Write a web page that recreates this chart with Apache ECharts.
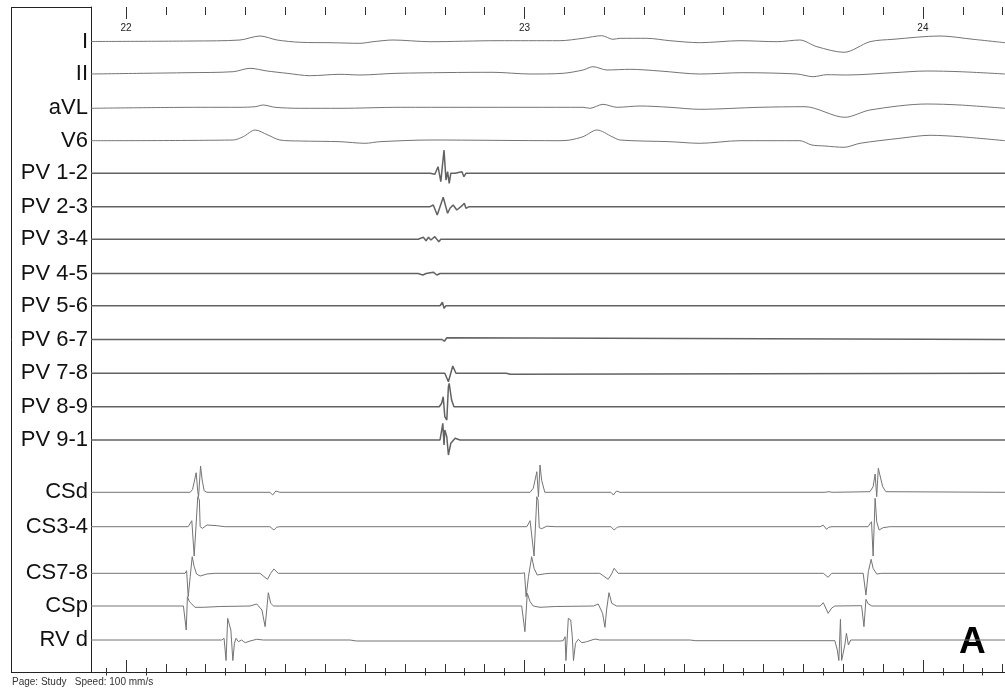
<!DOCTYPE html>
<html>
<head>
<meta charset="utf-8">
<script src="https://cdn.jsdelivr.net/npm/echarts@6/dist/echarts.min.js"></script>
<style>
html,body{margin:0;padding:0;background:#fff;}
#chart{width:1005px;height:689px;}
</style>
</head>
<body>
<div id="chart"></div>
<script>
const timeLabels = [22, 23, 24];
const channelNames = ['I','II','aVL','V6','PV 1-2','PV 2-3','PV 3-4','PV 4-5','PV 5-6','PV 6-7','PV 7-8','PV 8-9','PV 9-1','CSd','CS3-4','CS7-8','CSp','RV d'];

const chI = [[21.912,0],[22.168,0.5],[22.286,1.5],[22.336,5.5],[22.379,1.5],[22.437,-0.8],[22.512,-1.2],[22.587,-1.8],[22.620,-0.2],[22.670,1.5],[22.763,-0.2],[22.931,0.8],[23.089,0.8],[23.147,3.2],[23.194,5.8],[23.222,2.2],[23.240,3.2],[23.307,3.2],[23.365,0.8],[23.440,-1.2],[23.541,0.8],[23.634,-0.2],[23.691,1.5],[23.734,-5.2],[23.802,-10.8],[23.867,-0.2],[23.925,2.2],[24.043,5.5],[24.126,2.2],[24.206,-1.2]];
const chII = [[21.912,-0.5],[22.043,0.2],[22.153,0.8],[22.269,1.8],[22.311,5.2],[22.354,2.5],[22.404,0.2],[22.462,-2.2],[22.537,-0.8],[22.587,-1.5],[22.680,0.2],[22.921,1.2],[23.014,-0.5],[23.097,0.2],[23.147,3.5],[23.172,6.8],[23.207,3.5],[23.265,4.2],[23.340,2.5],[23.440,-0.5],[23.548,0.8],[23.684,-0.5],[23.724,-3.2],[23.759,-1.2],[23.809,-1.5],[23.925,0.8],[24.010,2.5],[24.093,1.8],[24.206,-0.5]];
const chAVL = [[21.912,-0.6],[22.186,0.4],[22.286,0.4],[22.324,1],[22.344,2.7],[22.374,0.4],[22.437,-0.6],[22.537,-0.6],[22.688,0.4],[23.014,0.4],[23.147,0.4],[23.164,-0.6],[23.197,3.4],[23.232,0.4],[23.290,1.7],[23.365,0.4],[23.440,-1.6],[23.591,0.4],[23.704,1],[23.804,-9.6],[23.867,-2.3],[24.010,3.7],[24.093,2.7],[24.206,-0.6]];
const chV6 = [[21.912,0],[22.269,0.7],[22.294,4],[22.324,10.7],[22.356,5.7],[22.386,0.7],[22.437,-0.3],[22.537,-1],[22.600,-2.6],[22.637,-1],[22.763,0.7],[23.089,0],[23.114,0.7],[23.147,4],[23.182,10.7],[23.220,4],[23.240,0.7],[23.365,-1],[23.440,-2.6],[23.541,0],[23.691,0],[23.721,-4.3],[23.754,-5.3],[23.802,-6.6],[23.842,-2.6],[23.942,2.4],[24.018,5.4],[24.093,4],[24.206,0]];
const chPV12 = [[21.912,0],[22.763,0],[22.775,-1],[22.783,6.6],[22.790,-8.4],[22.798,23.3],[22.803,-6.7],[22.807,1.6],[22.811,-10],[22.815,0],[22.826,0],[22.843,1.6],[22.848,-3.4],[22.853,0],[24.206,0]];
const chPV23 = [[21.912,0],[22.763,0],[22.771,1.7],[22.781,-8.3],[22.788,0],[22.796,9.4],[22.800,7.4],[22.807,-6.6],[22.813,-1.6],[22.821,1.7],[22.830,-3.3],[22.842,0.5],[22.849,3.4],[22.853,-1.6],[22.861,0],[24.206,0]];
const chPV34 = [[21.912,0],[22.733,0],[22.738,-0.7],[22.746,2],[22.753,-1.4],[22.759,2],[22.765,-0.7],[22.770,0.5],[22.775,2.6],[22.780,0],[22.785,-2.4],[22.790,0],[24.206,0]];
const chPV45 = [[21.912,0],[22.733,0],[22.738,2],[22.745,-1.5],[22.753,0],[22.771,1.3],[22.780,-1.5],[22.788,0],[24.206,0]];
const chPV56 = [[21.912,0],[22.788,0],[22.794,3.4],[22.798,-2.6],[22.803,0],[24.206,0]];
const chPV67 = [[21.912,0],[22.793,0],[22.799,-1.7],[22.805,1.7],[22.809,0],[24.206,0]];
const chPV78 = [[21.912,0],[22.800,0],[22.809,-8.4],[22.820,7.3],[22.828,0],[22.954,0],[22.959,1.5],[22.964,-1],[22.969,0],[24.206,0]];
const chPV89 = [[21.912,0],[22.786,0],[22.792,3.4],[22.796,10],[22.800,-10],[22.805,-13.3],[22.809,20],[22.811,23.4],[22.817,6.7],[22.823,0],[24.206,0]];
const chPV91 = [[21.912,0],[22.788,0],[22.795,16.7],[22.798,-5],[22.800,10],[22.805,3.3],[22.809,-15],[22.815,-3.3],[22.826,1.7],[22.838,0],[24.206,0]];
const chCSd = [[21.912,0],[22.161,0],[22.167,3],[22.176,19.6],[22.180,0.6],[22.182,-4.4],[22.187,26.3],[22.191,12.3],[22.196,1.6],[22.203,0],[22.361,0],[22.368,-2.7],[22.376,1.3],[22.386,0],[23.014,0],[23.022,4],[23.031,20.6],[23.035,-4.4],[23.039,27.3],[23.043,12],[23.051,0],[23.217,0],[23.223,-2.7],[23.231,1.3],[23.240,0],[23.754,0],[23.758,-2],[23.764,0.6],[23.772,0],[23.867,0.6],[23.875,5.6],[23.880,18.3],[23.884,-4.4],[23.888,24],[23.892,25.6],[23.899,5.6],[23.907,0.6],[24.206,0]];
const chCS34 = [[21.912,0],[22.156,0],[22.165,6],[22.171,-29.3],[22.175,-29.3],[22.180,30],[22.184,26.7],[22.186,0],[22.192,-1.6],[22.203,1.7],[22.228,1],[22.248,0],[22.361,0],[22.371,-3.3],[22.378,-0.5],[22.386,0],[23.006,0],[23.014,6],[23.024,-29.3],[23.031,30],[23.034,26.7],[23.037,-1],[23.043,-2],[23.056,0.5],[23.077,0],[23.217,0],[23.225,-3.3],[23.233,-0.5],[23.240,0],[23.742,0],[23.750,1.5],[23.758,-2.6],[23.764,-0.5],[23.772,0],[23.862,0],[23.867,1.7],[23.871,5],[23.875,-29.3],[23.880,28.4],[23.884,5],[23.890,-3.3],[23.900,-1],[23.917,0],[24.206,0]];
const chCS78 = [[21.912,0],[22.148,0],[22.152,2.6],[22.156,-23.4],[22.161,-3.4],[22.166,16.6],[22.171,6.6],[22.177,-0.7],[22.186,-2.7],[22.203,-0.7],[22.223,0],[22.336,0],[22.355,-6],[22.363,0],[22.371,4.3],[22.382,0],[22.994,0],[23.000,0.5],[23.004,-23.4],[23.010,-3.4],[23.018,16.6],[23.024,5],[23.032,-1.7],[23.051,-0.5],[23.064,0],[23.189,0],[23.210,-6],[23.219,-0.5],[23.225,5],[23.235,0],[23.737,0],[23.750,0],[23.754,1.6],[23.762,-4],[23.771,0],[23.850,0],[23.857,-21.7],[23.863,1.6],[23.870,14],[23.875,5],[23.884,-0.7],[23.897,0],[24.206,0]];
const chCSp = [[21.912,0],[22.144,0],[22.151,-24],[22.154,9.3],[22.159,4.3],[22.165,2],[22.173,-1.3],[22.194,-1.3],[22.236,-0.5],[22.311,0],[22.328,2],[22.341,-4],[22.349,-20.7],[22.353,-4],[22.357,13.3],[22.363,2.7],[22.370,0],[22.993,0],[23.001,-25.7],[23.007,12.7],[23.014,4.3],[23.022,0],[23.039,-1.3],[23.077,-0.5],[23.173,0],[23.185,2],[23.196,-7.3],[23.202,-21.3],[23.206,-4],[23.212,13.3],[23.219,2.7],[23.231,0],[23.742,0],[23.750,3.3],[23.762,-7.3],[23.771,-2],[23.779,0],[23.846,0.3],[23.852,-20.7],[23.857,6.7],[23.863,2],[23.872,0],[24.206,0]];
const chRVd = [[21.912,0],[22.240,0],[22.246,1.7],[22.251,-20.5],[22.255,21.7],[22.259,20],[22.263,10],[22.268,-20.5],[22.272,-3.3],[22.276,1.7],[22.282,-1.7],[22.290,0],[22.299,-2.7],[22.311,-1],[22.328,0.7],[22.345,0],[22.562,0],[22.579,-1],[23.089,-1],[23.097,-0.7],[23.102,3.3],[23.104,-20.5],[23.110,21.7],[23.116,20],[23.120,3.3],[23.123,-20.5],[23.128,-3.3],[23.135,0.7],[23.144,-2.7],[23.156,-1.7],[23.177,1],[23.189,0],[23.415,0],[23.430,-0.7],[23.779,-0.7],[23.785,-10],[23.789,-20.5],[23.793,20.7],[23.796,-20.5],[23.800,-20.5],[23.804,-5],[23.808,6.7],[23.813,-5],[23.819,0],[24.206,0]];

const channelData = [chI, chII, chAVL, chV6, chPV12, chPV23, chPV34, chPV45, chPV56, chPV67, chPV78, chPV89, chPV91, chCSd, chCS34, chCS78, chCSp, chRVd];

// ---- layout ----
const xMin = 21.912, xMax = 24.206;
const baselineY = [41.5, 73.5, 107.7, 140.7, 173.3, 206.7, 239.3, 273.5, 305.7, 339.5, 373.3, 406.7, 440, 492.3, 526.7, 573.3, 606, 640];
const half = 40;
const plotLeft = 91;
const fontFam = '"Liberation Sans", Arial, sans-serif';

const tick50 = [], tick100 = [];
for (let k = 0; k < 46; k++) {
  const v = +(21.95 + k * 0.05).toFixed(2);
  if (v > xMax) break;
  if (Math.round(v * 100) % 10 === 0) tick100.push(v); else tick50.push(v);
}

const grids = [], xAxes = [], yAxes = [], series = [];
channelNames.forEach((name, i) => {
  grids.push({left: plotLeft, right: 0, top: baselineY[i] - half, height: half * 2});
  xAxes.push({type: 'value', gridIndex: i, min: xMin, max: xMax, show: false});
  yAxes.push({
    type: 'value', gridIndex: i, min: -half, max: half,
    name: name, nameLocation: 'middle', nameRotate: 0, nameGap: 3,
    nameTextStyle: {fontSize: 22, color: '#111', fontFamily: fontFam, align: 'right', verticalAlign: 'middle'},
    axisLine: {show: false}, axisTick: {show: false}, axisLabel: {show: false}, splitLine: {show: false}
  });
  const isPV = i >= 4 && i <= 12;
  series.push({
    type: 'line', xAxisIndex: i, yAxisIndex: i, data: channelData[i],
    showSymbol: false, silent: true, smooth: i < 4 ? 0.3 : false,
    lineStyle: {width: isPV ? 1.5 : 1, color: isPV ? '#626262' : '#747474'}
  });
});

// tick frame grid
const tg = grids.length;
grids.push({left: plotLeft, right: 0, top: 7, bottom: 17});
yAxes.push({type: 'value', gridIndex: tg, min: 0, max: 1, axisLine: {show: true, lineStyle: {color: '#222'}}, axisTick: {show: false}, axisLabel: {show: false}, splitLine: {show: false}});
function tickAxis(pos, len, vals, line, labels) {
  return {
    type: 'value', gridIndex: tg, position: pos, min: xMin, max: xMax,
    axisLine: {show: line, lineStyle: {color: '#222', width: 1}},
    axisTick: {show: true, inside: true, length: len, customValues: vals, lineStyle: {color: '#333'}},
    axisLabel: labels ? {show: true, inside: true, margin: 16, customValues: vals, fontSize: 10, color: '#222', fontFamily: fontFam, formatter: v => String(v)} : {show: false},
    splitLine: {show: false}
  };
}
xAxes.push(tickAxis('top', 3.5, tick50, true, false));
xAxes.push(tickAxis('top', 8, tick100, false, false));
xAxes.push(tickAxis('top', 12, timeLabels, false, true));
xAxes.push(tickAxis('bottom', 4, tick50, true, false));
xAxes.push(tickAxis('bottom', 8, tick100, false, false));
xAxes.push(tickAxis('bottom', 12, timeLabels, false, false));

const chart = echarts.init(document.getElementById('chart'), null, {renderer: 'canvas'});
chart.setOption({
  animation: false,
  backgroundColor: '#fff',
  grid: grids, xAxis: xAxes, yAxis: yAxes, series: series,
  graphic: [
    {type: 'line', shape: {x1: 11.5, y1: 7, x2: 11.5, y2: 672.5}, style: {stroke: '#222', lineWidth: 1}},
    {type: 'line', shape: {x1: 11, y1: 7.5, x2: 92, y2: 7.5}, style: {stroke: '#222', lineWidth: 1}},
    {type: 'line', shape: {x1: 11, y1: 672.5, x2: 92, y2: 672.5}, style: {stroke: '#222', lineWidth: 1}},
    {type: 'text', left: 959, top: 624, style: {text: 'A', font: 'bold 37px ' + fontFam, fill: '#000'}},
    {type: 'text', left: 12, top: 677, style: {text: 'Page: Study   Speed: 100 mm/s', font: '10px ' + fontFam, fill: '#333'}}
  ]
});
</script>
</body>
</html>
